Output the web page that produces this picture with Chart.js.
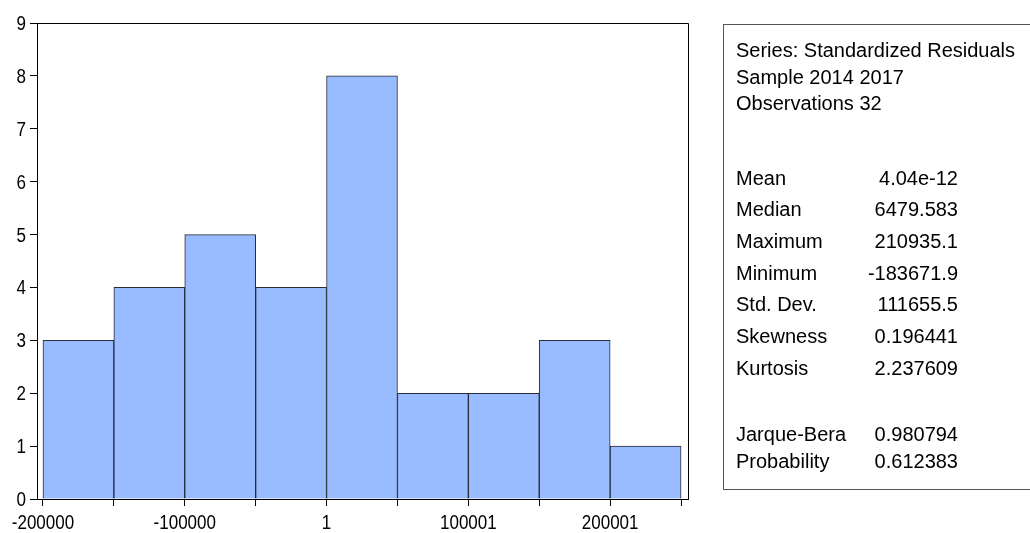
<!DOCTYPE html>
<html>
<head>
<meta charset="utf-8">
<script src="https://cdn.jsdelivr.net/npm/chart.js@4.4.1/dist/chart.umd.min.js"></script>
<style>
  html, body { margin: 0; padding: 0; background: #ffffff; }
  #wrap { position: relative; width: 1030px; height: 533px; overflow: hidden; background: #fff; }
  #c { position: absolute; left: 0; top: 0; }
  #stats { position: absolute; left: 723px; top: 24px; width: 330px; height: 466px;
           border: 1px solid #555; box-sizing: border-box; font-family: "Liberation Sans", Arial, sans-serif;
           font-size: 20px; color: #000; }
  .row { position: absolute; left: 12px; white-space: nowrap; line-height: 20px; }
  .val { position: absolute; right: 94px; white-space: nowrap; line-height: 20px; text-align: right; }
</style>
</head>
<body>
<div id="wrap">
  <canvas id="c" width="1030" height="533"></canvas>
  <div id="stats"></div>
</div>
<script>
// ---- data ----
const binStarts = [-200000, -150000, -100000, -50000, 0, 50000, 100000, 150000, 200000];
const binWidth = 50000;
const counts = [3, 4, 5, 4, 8, 2, 2, 3, 1];
const xTickValues = [-200000, -150000, -100000, -50000, 0, 50000, 100000, 150000, 200000, 250000];
const xTickLabels = ['-200000', '', '-100000', '', '1', '', '100001', '', '200001', ''];
const yTickValues = [0, 1, 2, 3, 4, 5, 6, 7, 8, 9];
const yTickLabels = ['0', '1', '2', '3', '4', '5', '6', '7', '8', '9'];
const headerLines = ['Series: Standardized Residuals', 'Sample 2014 2017', 'Observations 32'];
const statNames = ['Mean', 'Median', 'Maximum', 'Minimum', 'Std. Dev.', 'Skewness', 'Kurtosis'];
const statValues = ['4.04e-12', '6479.583', '210935.1', '-183671.9', '111655.5', '0.196441', '2.237609'];
const testNames = ['Jarque-Bera', 'Probability'];
const testValues = ['0.980794', '0.612383'];

// ---- stats box (HTML text) ----
const box = document.getElementById('stats');
const rowTops = {
  header: [15, 42, 68],
  stats: [143, 174, 206, 238, 269, 301, 333],
  tests: [399, 426]
};
function addRow(name, val, top) {
  const a = document.createElement('div');
  a.className = 'row'; a.style.top = top + 'px'; a.textContent = name; box.appendChild(a);
  if (val !== null) {
    const b = document.createElement('div');
    b.className = 'val'; b.style.top = top + 'px'; b.textContent = val; box.appendChild(b);
  }
}
headerLines.forEach((t, i) => addRow(t, null, rowTops.header[i]));
statNames.forEach((t, i) => addRow(t, statValues[i], rowTops.stats[i]));
testNames.forEach((t, i) => addRow(t, testValues[i], rowTops.tests[i]));

// ---- chart ----
const LABEL_FONT = '20px "Liberation Sans", Arial, sans-serif';
const SQUEEZE = 0.85;
const frameAndLabels = {
  id: 'frameAndLabels',
  afterDraw(chart) {
    const a = chart.chartArea, ctx = chart.ctx;
    ctx.save();
    ctx.strokeStyle = '#000';
    ctx.lineWidth = 1;
    ctx.beginPath();
    ctx.moveTo(Math.round(a.left) + 0.5, Math.round(a.top) + 0.5);
    ctx.lineTo(Math.round(a.right) + 0.5, Math.round(a.top) + 0.5);
    ctx.lineTo(Math.round(a.right) + 0.5, Math.round(a.bottom) + 0.5);
    ctx.stroke();
    // condensed tick labels, positioned by the chart's own scales
    ctx.fillStyle = '#000';
    ctx.font = LABEL_FONT;
    const xs = chart.scales.x, ys = chart.scales.y;
    ctx.textAlign = 'center';
    ctx.textBaseline = 'alphabetic';
    xTickValues.forEach((v, i) => {
      if (!xTickLabels[i]) return;
      ctx.save();
      ctx.translate(xs.getPixelForValue(v), a.bottom + 30);
      ctx.scale(SQUEEZE, 1);
      ctx.fillText(xTickLabels[i], 0, 0);
      ctx.restore();
    });
    ctx.textAlign = 'right';
    yTickValues.forEach((v, i) => {
      ctx.save();
      ctx.translate(a.left - 11, ys.getPixelForValue(v) + 7);
      ctx.scale(SQUEEZE, 1);
      ctx.fillText(yTickLabels[i], 0, 0);
      ctx.restore();
    });
    ctx.restore();
  }
};

new Chart(document.getElementById('c'), {
  type: 'bar',
  data: {
    datasets: [{
      data: binStarts.map((s, i) => ({ x: s + binWidth / 2, y: counts[i] })),
      backgroundColor: '#99bbff',
      borderColor: '#2a2a35',
      borderWidth: 1,
      barPercentage: 1,
      categoryPercentage: 1,
      borderSkipped: 'bottom'
    }]
  },
  options: {
    responsive: false,
    animation: false,
    events: [],
    layout: { padding: { top: 23, right: 342, left: 0, bottom: 0 } },
    plugins: { legend: { display: false }, tooltip: { enabled: false } },
    scales: {
      x: {
        type: 'linear',
        offset: false,
        min: -204200, max: 254900,
        afterBuildTicks(s) { s.ticks = xTickValues.map(v => ({ value: v })); },
        afterFit(s) { s.height = 34; },
        ticks: { display: false, autoSkip: false, maxRotation: 0 },
        grid: { offset: false, drawOnChartArea: false, tickLength: 7, color: '#000' },
        border: { display: true, color: '#000' }
      },
      y: {
        min: 0, max: 9,
        afterBuildTicks(s) { s.ticks = yTickValues.map(v => ({ value: v })); },
        afterFit(s) { s.width = 37; },
        ticks: { display: false },
        grid: { drawOnChartArea: false, tickLength: 7, color: '#000' },
        border: { display: true, color: '#000' }
      }
    }
  },
  plugins: [frameAndLabels]
});
</script>
</body>
</html>
